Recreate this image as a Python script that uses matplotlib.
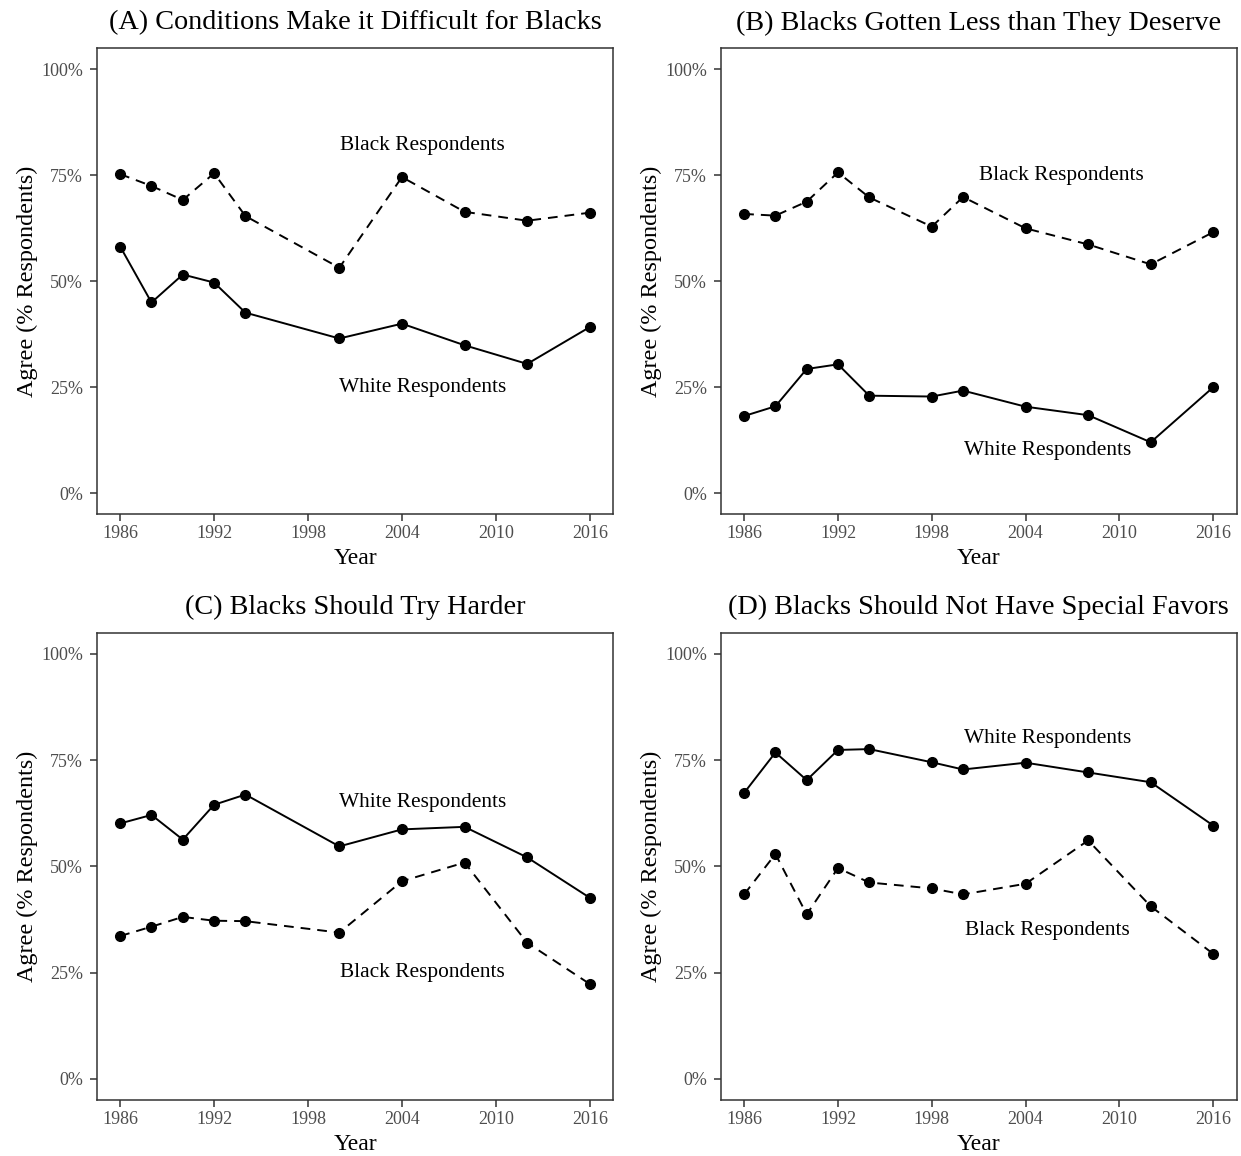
import matplotlib
matplotlib.use("Agg")
import matplotlib.pyplot as plt
from matplotlib.ticker import FuncFormatter

plt.rcParams["font.family"] = ["Liberation Serif", "DejaVu Serif"]

years_a = [1986, 1988, 1990, 1992, 1994, 2000, 2004, 2008, 2012, 2016]
years_b = [1986, 1988, 1990, 1992, 1994, 1998, 2000, 2004, 2008, 2012, 2016]

black_a = [75.3, 72.5, 69.2, 75.5, 65.4, 53.2, 74.6, 66.4, 64.3, 66.2]
white_a = [58.2, 45.0, 51.6, 49.7, 42.6, 36.5, 40.0, 34.9, 30.5, 39.2]

black_b = [65.9, 65.5, 68.8, 75.7, 69.8, 62.9, 69.9, 62.5, 58.7, 54.0, 61.6]
white_b = [18.2, 20.5, 29.3, 30.4, 23.0, 22.8, 24.2, 20.4, 18.4, 12.0, 25.0]

white_c = [60.1, 62.1, 56.3, 64.5, 66.9, 54.7, 58.7, 59.3, 52.1, 42.6]
black_c = [33.6, 35.8, 38.1, 37.2, 37.1, 34.4, 46.5, 50.9, 32.0, 22.3]

white_d = [67.3, 76.8, 70.3, 77.4, 77.6, 74.5, 72.8, 74.4, 72.1, 69.8, 59.6]
black_d = [43.4, 52.9, 38.7, 49.6, 46.2, 44.8, 43.4, 45.9, 56.1, 40.6, 29.4]

titles = [
    "(A) Conditions Make it Difficult for Blacks",
    "(B) Blacks Gotten Less than They Deserve",
    "(C) Blacks Should Try Harder",
    "(D) Blacks Should Not Have Special Favors",
]

x_ticks = [1986, 1992, 1998, 2004, 2010, 2016]
y_ticks = [0, 25, 50, 75, 100]

# (years, white, black, (x, y) of white label, (x, y) of black label)
panels = [
    (years_a, white_a, black_a, (2005.3, 25), (2005.3, 82)),
    (years_b, white_b, black_b, (2005.4, 10), (2006.3, 75)),
    (years_a, white_c, black_c, (2005.3, 65), (2005.3, 25)),
    (years_b, white_d, black_d, (2005.4, 80), (2005.4, 35)),
]

W, H = 1241, 1156
fig = plt.figure(figsize=(W / 100, H / 100), dpi=100)

boxes = [
    (96.7, 48.3, 613.3, 514.3),
    (720.7, 48.3, 1236.7, 514.3),
    (96.7, 632.7, 613.3, 1100.0),
    (720.7, 632.7, 1236.7, 1100.0),
]

spine_col = "#333333"
tick_col = "#4D4D4D"

for (x0, y0, x1, y1), title, (yrs, white, black, wpos, bpos) in zip(boxes, titles, panels):
    ax = fig.add_axes([x0 / W, 1 - y1 / H, (x1 - x0) / W, (y1 - y0) / H])
    ax.plot(yrs, white, color="black", lw=1.4, marker="o", ms=7, solid_capstyle="butt")
    ax.plot(yrs, black, color="black", lw=1.4, marker="o", ms=7,
            linestyle=(0, (5.0, 3.6)))
    ax.text(wpos[0], wpos[1], "White Respondents", ha="center", va="center", fontsize=15.4)
    ax.text(bpos[0], bpos[1], "Black Respondents", ha="center", va="center", fontsize=15.4)

    ax.set_xlim(1984.5, 2017.5)
    ax.set_ylim(-5, 105)
    ax.set_xticks(x_ticks)
    ax.set_yticks(y_ticks)
    ax.yaxis.set_major_formatter(FuncFormatter(lambda v, p: f"{int(v)}%"))
    ax.tick_params(axis="both", colors=spine_col, labelcolor=tick_col,
                   labelsize=13, length=4.8, width=1.1, pad=3)
    ax.tick_params(axis="y", pad=5)
    for s in ax.spines.values():
        s.set_color(spine_col)
        s.set_linewidth(1.1)
    ax.set_title(title, fontsize=20.3, pad=13.5)
    ax.set_xlabel("Year", fontsize=17, labelpad=4.5)
    ax.set_ylabel("Agree (% Respondents)", fontsize=17.4, labelpad=2)

fig.savefig("out.png", dpi=100)
